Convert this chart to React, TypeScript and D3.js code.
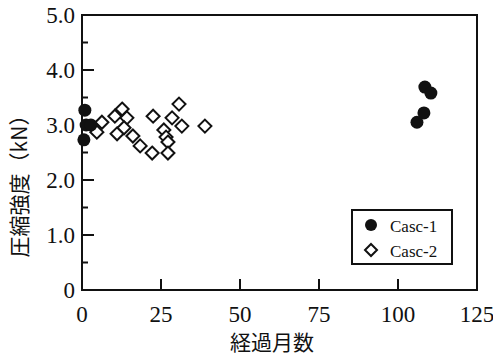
import React, { useEffect, useRef } from 'react';
import { select, scaleLinear } from 'd3';

// months elapsed vs compressive strength (kN)
const case1Months = [0.9, 1.3, 2.8, 0.6, 108.5, 110.4, 108.2, 106.0];
const case1Strength = [3.27, 3.0, 3.0, 2.73, 3.69, 3.58, 3.22, 3.05];

const case2Months = [4.7, 6.3, 10.4, 12.7, 14.2, 11.1, 13.3, 16.1, 18.4, 22.2, 22.5, 25.9, 26.6, 27.2, 27.2, 28.5, 30.7, 31.6, 38.9];
const case2Strength = [2.87, 3.05, 3.16, 3.29, 3.13, 2.84, 2.95, 2.8, 2.62, 2.49, 3.16, 2.91, 2.78, 2.69, 2.49, 3.13, 3.38, 2.98, 2.98];

const xTicks = [0, 25, 50, 75, 100, 125];
const yTicks = [0, 1, 2, 3, 4, 5];
const yMinorTicks = [0.5, 1.5, 2.5, 3.5, 4.5];
const legendLabels = ['Casc-1', 'Casc-2'];

const W = 493;
const H = 363;
const ink = '#111';
const serif = '"Liberation Serif", "Times New Roman", serif';
const cjk = '"Noto Sans CJK JP", sans-serif';

const App = () => {
  const ref = useRef(null);

  useEffect(() => {
    if (!ref.current) return;
    const svg = select(ref.current);
    svg.selectAll('*').remove();

    const x = scaleLinear().domain([0, 125]).range([82, 477]);
    const y = scaleLinear().domain([0, 5]).range([290, 15]);

    // frame
    svg.append('rect')
      .attr('x', x(0)).attr('y', y(5))
      .attr('width', x(125) - x(0)).attr('height', y(0) - y(5))
      .attr('fill', 'none').attr('stroke', ink).attr('stroke-width', 2);

    // y ticks (inward)
    yTicks.forEach(t => {
      svg.append('line')
        .attr('x1', x(0)).attr('x2', x(0) + 12)
        .attr('y1', y(t)).attr('y2', y(t))
        .attr('stroke', ink).attr('stroke-width', 2);
      svg.append('text')
        .attr('x', 75).attr('y', y(t) + 8)
        .attr('text-anchor', 'end')
        .style('font-family', serif).style('font-size', '23px').style('fill', ink)
        .text(t === 0 ? '0' : t.toFixed(1));
    });
    yMinorTicks.forEach(t => {
      svg.append('line')
        .attr('x1', x(0)).attr('x2', x(0) + 6)
        .attr('y1', y(t)).attr('y2', y(t))
        .attr('stroke', ink).attr('stroke-width', 2);
    });

    // x ticks
    xTicks.forEach(t => {
      if (t > 0 && t < 125) {
        svg.append('line')
          .attr('x1', x(t)).attr('x2', x(t))
          .attr('y1', y(0)).attr('y2', y(0) - 11)
          .attr('stroke', ink).attr('stroke-width', 2);
      }
      svg.append('text')
        .attr('x', x(t)).attr('y', 322)
        .attr('text-anchor', 'middle')
        .style('font-family', serif).style('font-size', '23px').style('fill', ink)
        .text(String(t));
    });

    // axis titles
    svg.append('text')
      .attr('x', 272).attr('y', 350)
      .attr('text-anchor', 'middle')
      .style('font-family', cjk).style('font-size', '21px').style('fill', ink)
      .text('経過月数');

    svg.append('text')
      .attr('transform', `translate(27,181) rotate(-90)`)
      .attr('text-anchor', 'middle')
      .style('font-family', cjk).style('font-size', '21px').style('fill', ink)
      .text('圧縮強度（kN）');

    const diamond = (cx, cy, r) => `M${cx},${cy - r}L${cx + r},${cy}L${cx},${cy + r}L${cx - r},${cy}Z`;

    // case-2 diamonds
    case2Months.forEach((m, i) => {
      svg.append('path')
        .attr('d', diamond(x(m), y(case2Strength[i]), 6.5))
        .attr('fill', '#fff').attr('stroke', ink).attr('stroke-width', 2);
    });

    // case-1 filled circles
    case1Months.forEach((m, i) => {
      svg.append('circle')
        .attr('cx', x(m)).attr('cy', y(case1Strength[i]))
        .attr('r', 6.5).attr('fill', ink);
    });

    // legend
    svg.append('rect')
      .attr('x', 352).attr('y', 210).attr('width', 100).attr('height', 54)
      .attr('fill', '#fff').attr('stroke', ink).attr('stroke-width', 2);
    svg.append('circle').attr('cx', 371).attr('cy', 225).attr('r', 6).attr('fill', ink);
    svg.append('path').attr('d', diamond(371, 250, 6))
      .attr('fill', '#fff').attr('stroke', ink).attr('stroke-width', 2);
    legendLabels.forEach((l, i) => {
      svg.append('text')
        .attr('x', 390).attr('y', 232 + i * 25)
        .style('font-family', serif).style('font-size', '17px').style('fill', ink)
        .text(l);
    });
  }, []);

  return (
    <svg ref={ref} width={W} height={H}
      style={{ position: 'absolute', left: 0, top: 0, background: '#fff' }} />
  );
};

export default App;
